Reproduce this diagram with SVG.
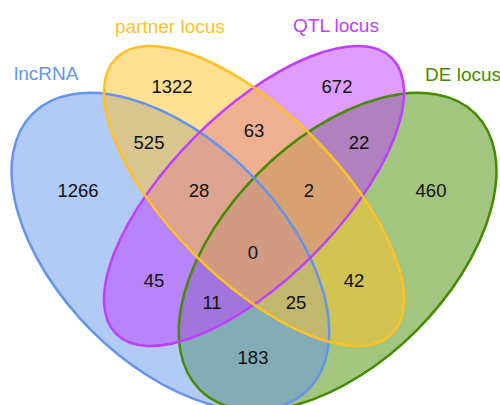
<svg xmlns="http://www.w3.org/2000/svg" width="500" height="405" viewBox="0 0 500 405">
<style>
.f{stroke:none;fill-opacity:0.5}
.s{fill:none;stroke-width:2.5}
.n{font-family:"Liberation Sans",Arial,sans-serif;font-size:18.5px;fill:#111;text-anchor:middle;dominant-baseline:central}
.l{font-family:"Liberation Sans",Arial,sans-serif;font-size:19px}
</style>
<rect width="500" height="405" fill="#fff"/>
<g id="fills">
<ellipse class="f" cx="0" cy="0" rx="195" ry="111.5" fill="#458B00" transform="translate(337.6,251.7) rotate(-45)"/>
<ellipse class="f" cx="0" cy="0" rx="195" ry="111.5" fill="#6495ED" transform="translate(170.4,251.7) rotate(45)"/>
<ellipse class="f" cx="0" cy="0" rx="195" ry="83.5" fill="#BF3EFF" transform="translate(254,196) rotate(-45)"/>
<ellipse class="f" cx="0" cy="0" rx="195" ry="83.5" fill="#FFC125" transform="translate(254,196) rotate(45)"/>
</g>
<g id="DE">
<ellipse class="s" cx="0" cy="0" rx="195" ry="111.5" stroke="#458B00" transform="translate(337.6,251.7) rotate(-45)"/>
<text class="l" x="425" y="81" fill="#458B00">DE locus</text>
</g>
<g id="lncRNA">
<ellipse class="s" cx="0" cy="0" rx="195" ry="111.5" stroke="#6495ED" transform="translate(170.4,251.7) rotate(45)"/>
<text class="l" x="14" y="80" fill="#6495ED">lncRNA</text>
</g>
<g id="QTL">
<ellipse class="s" cx="0" cy="0" rx="195" ry="83.5" stroke="#BF3EFF" transform="translate(254,196) rotate(-45)"/>
<text class="l" x="293" y="32" fill="#BF3EFF">QTL locus</text>
</g>
<g id="partner">
<ellipse class="s" cx="0" cy="0" rx="195" ry="83.5" stroke="#FFC125" transform="translate(254,196) rotate(45)"/>
<text class="l" x="115" y="33" fill="#FFC125">partner locus</text>
</g>
<g id="counts">
<text class="n" x="172" y="86">1322</text>
<text class="n" x="149" y="142">525</text>
<text class="n" x="78" y="190">1266</text>
<text class="n" x="199" y="190">28</text>
<text class="n" x="254" y="130">63</text>
<text class="n" x="337" y="86">672</text>
<text class="n" x="359" y="142">22</text>
<text class="n" x="309" y="190">2</text>
<text class="n" x="431" y="190">460</text>
<text class="n" x="253" y="252">0</text>
<text class="n" x="154" y="280">45</text>
<text class="n" x="212" y="302">11</text>
<text class="n" x="296" y="302">25</text>
<text class="n" x="354" y="280">42</text>
<text class="n" x="253" y="357">183</text>
</g>
<g id="connectors"/>
</svg>
